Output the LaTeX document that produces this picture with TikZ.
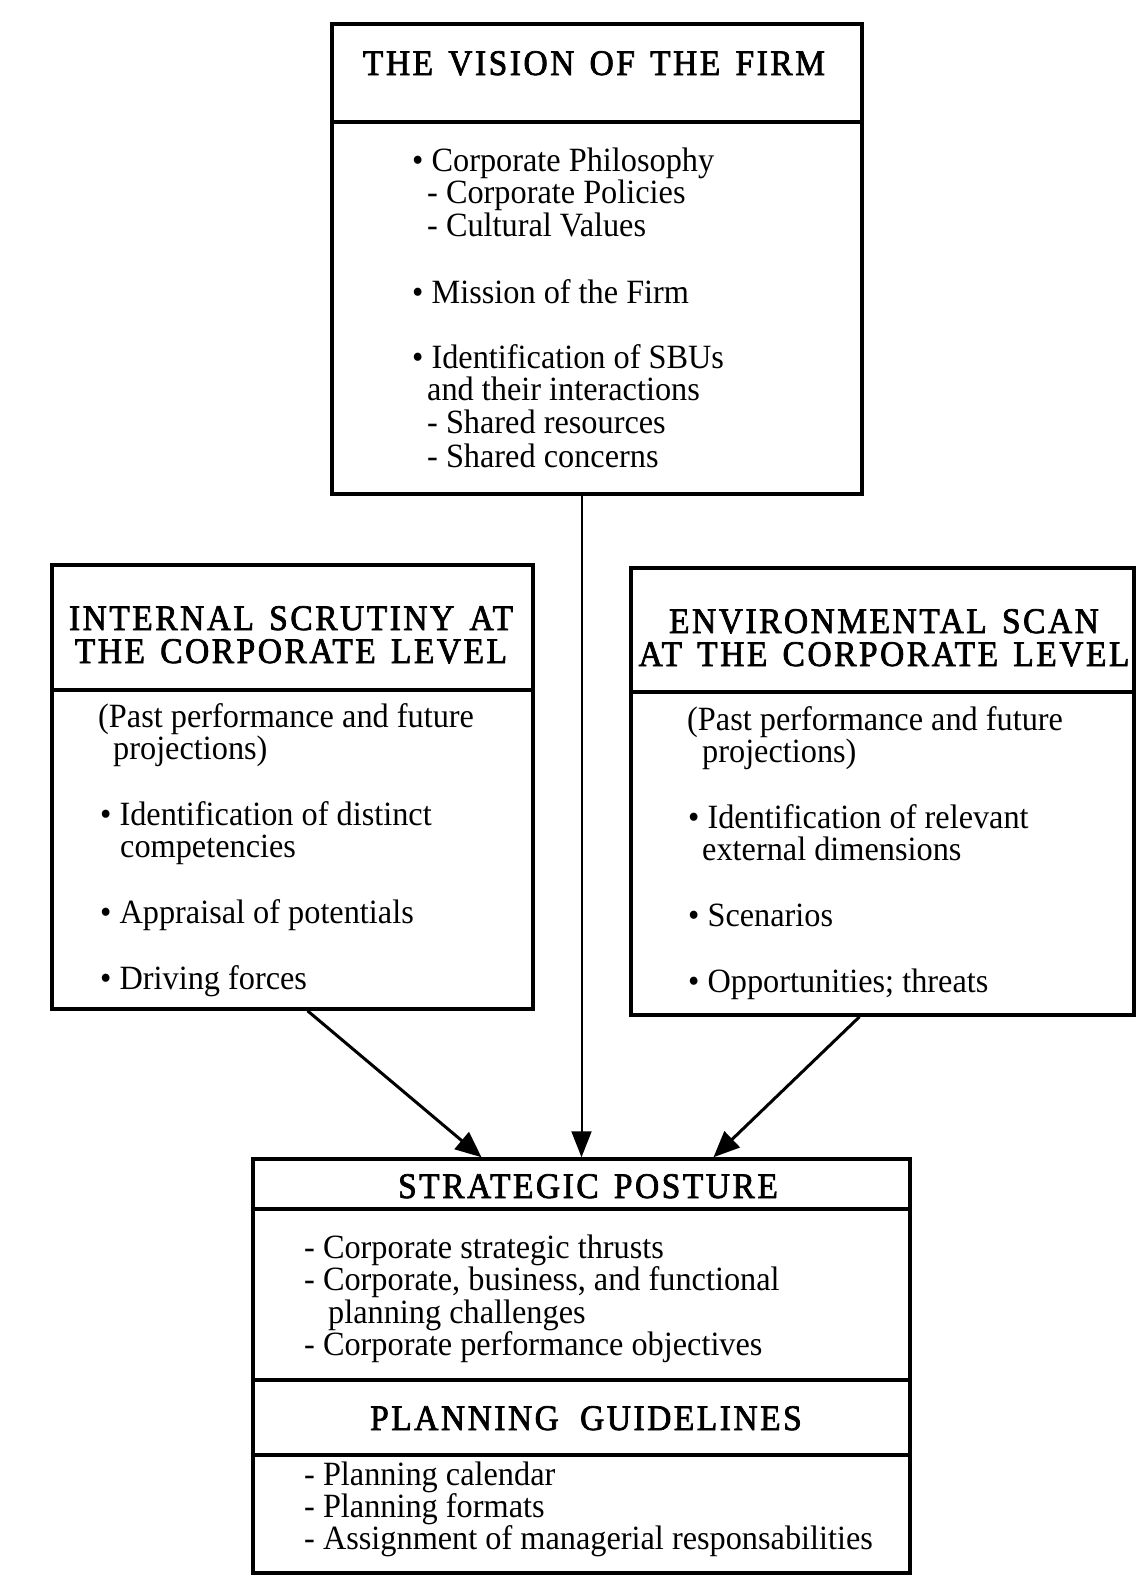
\documentclass[tikz,border=0pt]{standalone}
\usepackage{fontspec}
\setmainfont{Liberation Serif}[FakeStretch=0.95]
\newfontfamily\headfont{Liberation Serif}[LetterSpace=7,WordSpace=1.4,FakeBold=2,FakeStretch=0.93]
\usetikzlibrary{arrows.meta}
\begin{document}
\begin{tikzpicture}[x=1pt,y=-1pt,
  boxst/.style={draw, line width=3.5pt, inner sep=0pt},
  divider/.style={line width=3.5pt},
  arr/.style={line width=3pt, -{Triangle[length=26pt,width=22pt]}},
  varr/.style={line width=2pt, -{Triangle[length=26pt,width=20pt]}},
  body/.style={anchor=base west, inner sep=0pt, font=\fontsize{34}{34}\selectfont},
  head/.style={anchor=base, inner sep=0pt, font=\headfont\fontsize{36}{36}\selectfont}]
\useasboundingbox[fill=white] (0,0) rectangle (1136,1577);

% boxes
\node[boxst, minimum width=530pt, minimum height=470pt] (vision) at (597,259) {};
\node[boxst, minimum width=481pt, minimum height=444pt] (internal) at (292.5,787) {};
\node[boxst, minimum width=503pt, minimum height=447pt] (env) at (882.5,791.5) {};
\node[boxst, minimum width=657pt, minimum height=414pt] (posture) at (581.5,1366) {};

% dividers
\draw[divider] (vision.west |- 0,122) -- (vision.east |- 0,122);
\draw[divider] (internal.west |- 0,690) -- (internal.east |- 0,690);
\draw[divider] (env.west |- 0,692) -- (env.east |- 0,692);
\draw[divider] (posture.west |- 0,1209) -- (posture.east |- 0,1209);
\draw[divider] (posture.west |- 0,1380) -- (posture.east |- 0,1380);
\draw[divider] (posture.west |- 0,1455) -- (posture.east |- 0,1455);

% vision texts
\node[head] (vh) at (594,75) {THE VISION OF THE FIRM};
\node[body] (v1) at (412,171) {• Corporate Philosophy};
\node[body] (v2) at (427,203) {- Corporate Policies};
\node[body] (v3) at (427,236) {- Cultural Values};
\node[body] (v4) at (412,303) {• Mission of the Firm};
\node[body] (v5) at (412,368) {• Identification of SBUs};
\node[body] (v6) at (427,400) {and their interactions};
\node[body] (v7) at (427,433) {- Shared resources};
\node[body] (v8) at (427,467) {- Shared concerns};

% internal texts
\node[head] (ih1) at (291,630) {INTERNAL SCRUTINY AT};
\node[head] (ih2) at (291,663) {THE CORPORATE LEVEL};
\node[body] (i1) at (98,727) {(Past performance and future};
\node[body] (i2) at (113,759) {projections)};
\node[body] (i3) at (100,825) {• Identification of distinct};
\node[body] (i4) at (120,857) {competencies};
\node[body] (i5) at (100,923) {• Appraisal of potentials};
\node[body] (i6) at (100,989) {• Driving forces};

% environment texts
\node[head] (eh1) at (884,633) {ENVIRONMENTAL SCAN};
\node[head] (eh2) at (884,666) {AT THE CORPORATE LEVEL};
\node[body] (e1) at (687,730) {(Past performance and future};
\node[body] (e2) at (702,762) {projections)};
\node[body] (e3) at (688,828) {• Identification of relevant};
\node[body] (e4) at (702,860) {external dimensions};
\node[body] (e5) at (688,926) {• Scenarios};
\node[body] (e6) at (688,992) {• Opportunities; threats};

% posture texts
\node[head] (ph) at (588,1198) {STRATEGIC POSTURE};
\node[body] (p1) at (304,1258) {- Corporate strategic thrusts};
\node[body] (p2) at (304,1290) {- Corporate, business, and functional};
\node[body] (p3) at (328,1323) {planning challenges};
\node[body] (p4) at (304,1355) {- Corporate performance objectives};
\node[head] (gh) at (586,1430) {PLANNING\hspace{6pt} GUIDELINES};
\node[body] (g1) at (304,1485) {- Planning calendar};
\node[body] (g2) at (304,1517) {- Planning formats};
\node[body] (g3) at (304,1549) {- Assignment of managerial responsabilities};

% arrows
\draw[varr] (vision.south -| posture.north) -- (posture.north);
\draw[arr] ([xshift=15pt]internal.south) -- ([xshift=-100pt]posture.north);
\draw[arr] ([xshift=-23pt]env.south) -- ([xshift=132pt]posture.north);
\end{tikzpicture}
\end{document}
